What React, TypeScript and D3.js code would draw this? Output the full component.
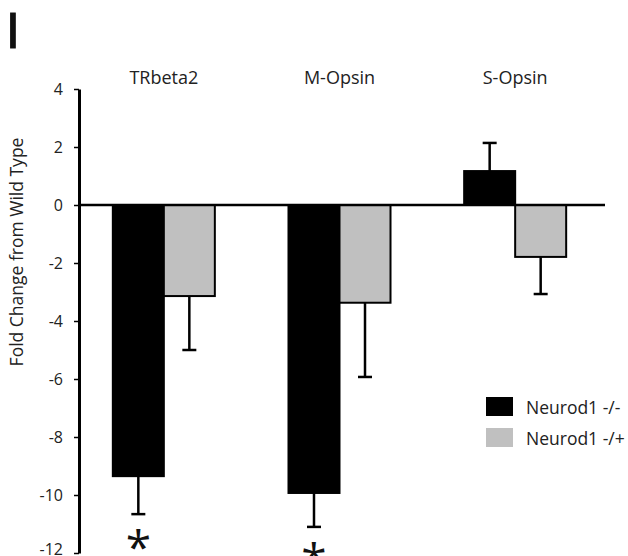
import * as d3 from "d3";
import React, { useEffect, useRef } from "react";

const categories = ["TRbeta2", "M-Opsin", "S-Opsin"];
const seriesNames = ["Neurod1 -/-", "Neurod1 -/+"];
const knockoutValues = [-9.35, -9.93, 1.17];
const knockoutErrors = [1.31, 1.17, 0.97];
const hetValues = [-3.14, -3.37, -1.79];
const hetErrors = [1.86, 2.56, 1.28];
const knockoutSignificant = [true, true, false];
const yTicks = [4, 2, 0, -2, -4, -6, -8, -10, -12];
const seriesColors = ["#000000", "#c0c0c0"];

const W = 628;
const H = 556;
const FONT = "'Open Sans', 'Noto Sans', sans-serif";

export default function App() {
  const ref = useRef<SVGSVGElement>(null);

  useEffect(() => {
    document.body.style.margin = "0";
    const svg = d3.select(ref.current);
    svg.selectAll("*").remove();

    const y = d3.scaleLinear().domain([-12, 4]).range([553, 89]);
    const x0 = d3.scaleBand().domain(categories).range([76, 603]).padding(0);
    const x1 = d3
      .scaleBand()
      .domain(seriesNames)
      .range([0, x0.bandwidth()])
      .paddingInner(0)
      .paddingOuter(0.722);

    const data = categories.map((c, i) => ({
      cat: c,
      bars: [
        { s: seriesNames[0], v: knockoutValues[i], e: knockoutErrors[i], sig: knockoutSignificant[i] },
        { s: seriesNames[1], v: hetValues[i], e: hetErrors[i], sig: false },
      ],
    }));

    const color = d3.scaleOrdinal<string, string>().domain(seriesNames).range(seriesColors);

    // panel letter
    svg
      .append("text")
      .attr("x", 6)
      .attr("y", 48)
      .attr("font-family", "'Liberation Sans', Arial, sans-serif")
      .attr("font-size", 50)
      .attr("stroke", "#111")
      .attr("stroke-width", 1)
      .attr("fill", "#111")
      .text("I");

    // y axis
    const yAxis = d3
      .axisLeft(y)
      .tickValues(yTicks)
      .tickSize(5)
      .tickSizeOuter(0)
      .tickPadding(11)
      .tickFormat((d) => String(d));
    const axisG = svg.append("g").attr("transform", "translate(79,0)").call(yAxis);
    axisG.select(".domain").attr("stroke", "#000").attr("stroke-width", 3);
    axisG.selectAll(".tick line").attr("stroke", "#000").attr("stroke-width", 1.5);
    axisG
      .selectAll(".tick text")
      .attr("font-family", FONT)
      .attr("font-size", 16)
      .attr("fill", "#222")
      .attr("dy", (d: any) => (d === -12 ? "0.1em" : "0.32em"));

    svg
      .append("text")
      .attr("transform", "rotate(-90)")
      .attr("x", -252)
      .attr("y", 23)
      .attr("text-anchor", "middle")
      .attr("font-family", FONT)
      .attr("font-size", 17.5)
      .attr("fill", "#222")
      .text("Fold Change from Wild Type");

    // category labels
    svg
      .selectAll(".catLabel")
      .data(categories)
      .enter()
      .append("text")
      .attr("class", "catLabel")
      .attr("x", (d) => (x0(d) as number) + x0.bandwidth() / 2)
      .attr("y", 84)
      .attr("text-anchor", "middle")
      .attr("font-family", FONT)
      .attr("font-size", 18)
      .attr("fill", "#222")
      .text((d) => d);

    const groups = svg
      .selectAll(".group")
      .data(data)
      .enter()
      .append("g")
      .attr("class", "group")
      .attr("transform", (d) => `translate(${x0(d.cat)},0)`);

    // error bars, drawn first so the bars cover the stems
    const capW = 14;
    groups.each(function (d) {
      const g = d3.select(this);
      d.bars.forEach((b) => {
        const cx = (x1(b.s) as number) + x1.bandwidth() / 2;
        const end = b.v >= 0 ? b.v + b.e : b.v - b.e;
        g.append("line")
          .attr("x1", cx)
          .attr("x2", cx)
          .attr("y1", y(b.v))
          .attr("y2", y(end))
          .attr("stroke", "#000")
          .attr("stroke-width", 2.5);
        g.append("line")
          .attr("x1", cx - capW / 2)
          .attr("x2", cx + capW / 2)
          .attr("y1", y(end))
          .attr("y2", y(end))
          .attr("stroke", "#000")
          .attr("stroke-width", 2.5);
        if (b.sig) {
          g.append("text")
            .attr("x", cx)
            .attr("y", y(end) + 50)
            .attr("text-anchor", "middle")
            .attr("font-family", FONT)
            .attr("font-size", 46)
            .attr("fill", "#111")
            .text("*");
        }
      });
    });

    groups
      .selectAll("rect")
      .data((d) => d.bars)
      .enter()
      .append("rect")
      .attr("x", (b) => x1(b.s) as number)
      .attr("width", x1.bandwidth())
      .attr("y", (b) => y(Math.max(0, b.v)))
      .attr("height", (b) => Math.abs(y(b.v) - y(0)))
      .attr("fill", (b) => color(b.s))
      .attr("stroke", "#000")
      .attr("stroke-width", 2);

    // zero line
    svg
      .append("line")
      .attr("x1", 79)
      .attr("x2", 605)
      .attr("y1", y(0))
      .attr("y2", y(0))
      .attr("stroke", "#000")
      .attr("stroke-width", 2.5);

    // legend
    const legend = svg
      .selectAll(".legend")
      .data(seriesNames)
      .enter()
      .append("g")
      .attr("class", "legend")
      .attr("transform", (d, i) => `translate(486,${397 + i * 31})`);
    legend
      .append("rect")
      .attr("width", 27)
      .attr("height", 19)
      .attr("fill", (d) => color(d));
    legend
      .append("text")
      .attr("x", 40)
      .attr("y", 17)
      .attr("font-family", FONT)
      .attr("font-size", 17.5)
      .attr("fill", "#222")
      .text((d) => d);
  }, []);

  return (
    <div>
      <svg ref={ref} width={W} height={H} style={{ display: "block", background: "#fff" }} />
    </div>
  );
}
